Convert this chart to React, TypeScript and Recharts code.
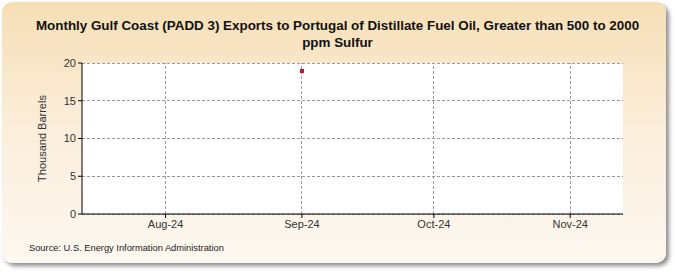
import { LineChart, Line, XAxis, YAxis, CartesianGrid, Label, ReferenceLine } from "recharts";

// Monthly values (thousand barrels)
const MONTHS = [Date.UTC(2024, 8, 1)];
const VALUES = [19];

const TICK_DATES = [Date.UTC(2024, 7, 1), Date.UTC(2024, 8, 1), Date.UTC(2024, 9, 1), Date.UTC(2024, 10, 1)];
const TICK_LABELS = ["Aug-24", "Sep-24", "Oct-24", "Nov-24"];
const Y_TICKS = [0, 5, 10, 15, 20];

const X_DOMAIN = [Date.UTC(2024, 6, 13), Date.UTC(2024, 10, 13)];

const data = MONTHS.map((m, i) => ({ date: m, value: VALUES[i] }));

const fmtTick = (v: number) => {
  const i = TICK_DATES.indexOf(v);
  return i >= 0 ? TICK_LABELS[i] : "";
};

// eslint-disable-next-line @typescript-eslint/no-explicit-any
const SquareDot = (props: any) => {
  const { cx, cy } = props;
  if (cx == null || cy == null) return null;
  return <rect x={Math.round(cx) - 2} y={Math.round(cy) - 2} width={4} height={4} fill="#c8102e" shapeRendering="crispEdges" />;
};

const font = "Arial, 'Liberation Sans', sans-serif";
const GRID = "#9a9a9a";

export default function App() {
  return (
    <div style={{ position: "absolute", left: 0, top: 0, width: 675, height: 275, fontFamily: font }}>
      {/* fundo arredondado */}
      <div
        style={{
          position: "absolute",
          left: 2,
          top: 2,
          width: 664,
          height: 261,
          borderRadius: 10,
          background: "linear-gradient(180deg, #f6dfb6 0%, #fbeedb 50%, #fdf8f1 100%)",
          boxShadow: "3px 3px 4px rgba(0,0,0,0.45)",
        }}
      />
      <div
        style={{
          position: "absolute",
          left: 0,
          top: 17,
          width: 675,
          textAlign: "center",
          fontWeight: "bold",
          fontSize: 13.4,
          lineHeight: "17px",
          color: "#111",
        }}
      >
        Monthly Gulf Coast (PADD 3) Exports to Portugal of Distillate Fuel Oil, Greater than 500 to 2000
        <br />
        ppm Sulfur
      </div>
      <div style={{ position: "absolute", left: 0, top: 0 }}>
        <LineChart width={675} height={275} data={data} margin={{ top: 63, right: 52, bottom: 0, left: 0 }}>
          <CartesianGrid
            vertical={false}
            stroke={GRID}
            strokeDasharray="3 2"
            shapeRendering="crispEdges"
            fill="#ffffff"
            fillOpacity={1}
          />
          {/* linhas verticais nos meses */}
          {TICK_DATES.map((d) => (
            <ReferenceLine
              key={"x" + d}
              x={d}
              stroke={GRID}
              strokeDasharray="3 2"
              shapeRendering="crispEdges"
            />
          ))}
          <XAxis
            dataKey="date"
            type="number"
            scale="time"
            domain={X_DOMAIN}
            ticks={TICK_DATES}
            tickFormatter={fmtTick}
            height={61}
            axisLine={{ stroke: "#000" }}
            tickLine={{ stroke: "#000" }}
            tickSize={4}
            tick={{ fill: "#333", fontSize: 11, fontFamily: font }}
          />
          <YAxis
            domain={[0, 20]}
            ticks={Y_TICKS}
            width={82}
            axisLine={{ stroke: "#000" }}
            tickLine={{ stroke: "#000" }}
            tickSize={4}
            tick={{ fill: "#333", fontSize: 11, fontFamily: font }}
          >
            <Label
              value="Thousand Barrels"
              angle={-90}
              position="insideLeft"
              offset={42}
              style={{ fill: "#333", fontSize: 11, fontFamily: font, textAnchor: "middle" }}
            />
          </YAxis>
          <Line
            dataKey="value"
            stroke="none"
            dot={<SquareDot />}
            activeDot={false}
            isAnimationActive={false}
          />
        </LineChart>
      </div>
      <div style={{ position: "absolute", left: 29, top: 243, fontSize: 9.3, color: "#222" }}>
        Source: U.S. Energy Information Administration
      </div>
    </div>
  );
}
